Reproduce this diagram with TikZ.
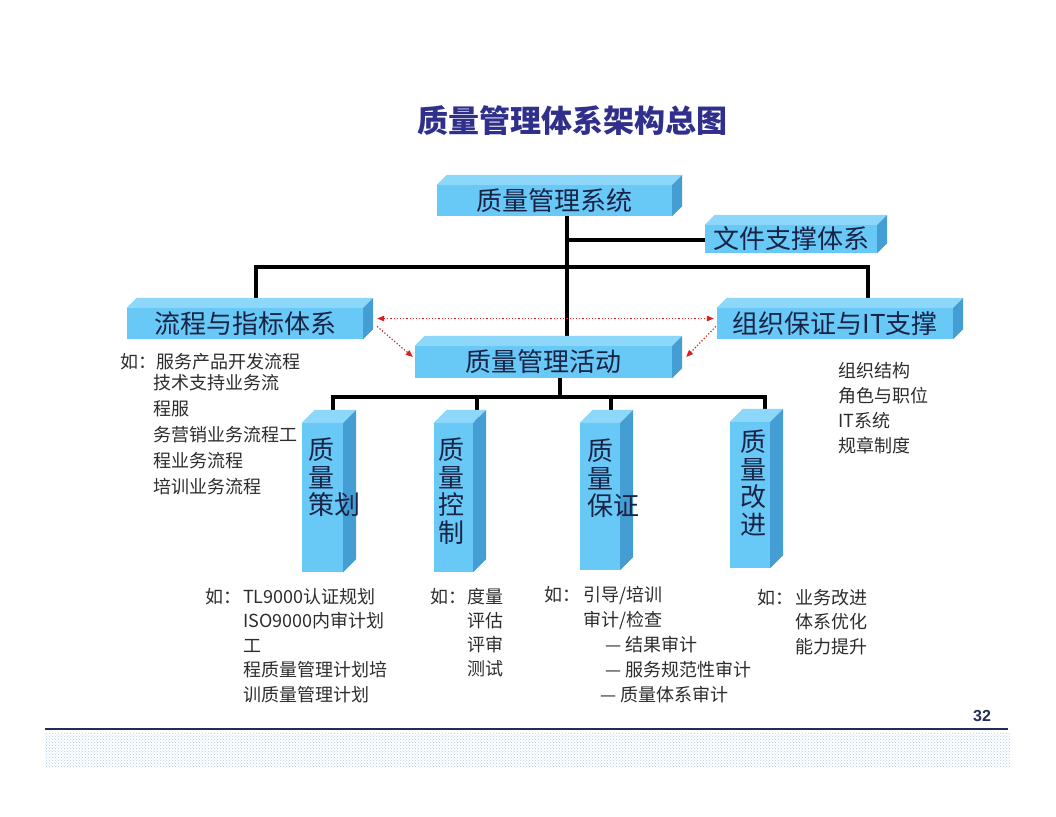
\documentclass[tikz,border=0pt]{standalone}
\usepackage{fontspec}
\setmainfont{Noto Sans CJK SC}
\newfontfamily\arialfont{Liberation Sans}
\usetikzlibrary{calc,backgrounds,patterns,arrows.meta}
\definecolor{frontc}{RGB}{104,200,246}
\definecolor{topc}{RGB}{140,215,250}
\definecolor{sidec}{RGB}{68,158,212}
\definecolor{boxtext}{RGB}{25,35,70}
\definecolor{bodytext}{RGB}{45,45,45}
\definecolor{titlec}{RGB}{48,48,140}
\definecolor{navy}{RGB}{35,45,90}
\definecolor{arrowred}{RGB}{220,30,30}
\definecolor{patc}{RGB}{170,205,238}
\tikzset{
 front/.style={fill=frontc, inner sep=0pt, text=boxtext, font=\fontsize{26}{28}\selectfont},
 pillartext/.style={text=boxtext, font=\fontsize{26}{27.5}\selectfont, align=left, inner sep=0pt, anchor=north west},
 conn/.style={line width=3.2pt, black},
 body/.style={text=bodytext, font=\fontsize{18}{25}\selectfont, align=left, inner sep=0pt, anchor=north west},
 redarrow/.style={arrowred, dotted, line width=1.2pt, -{Triangle[length=7pt,width=5.5pt]}},
}
\newcommand\cubefaces[2]{%
 \fill[topc] (#1.north west) -- ++(#2,-#2) -- ($(#1.north east)+(#2,-#2)$) -- (#1.north east) -- cycle;
 \fill[sidec] (#1.north east) -- ++(#2,-#2) -- ($(#1.south east)+(#2,-#2)$) -- (#1.south east) -- cycle;
}
\begin{document}
\begin{tikzpicture}[x=1pt,y=-1pt]
\useasboundingbox (0,0) rectangle (1056,816);

% title
\node[font=\fontsize{31}{31}\selectfont\bfseries, text=titlec] (title) at (572,121) {质量管理体系架构总图};

% boxes (front faces)
\node[front, minimum width=235, minimum height=31] (b1) at (554.5,200.5) {质量管理系统};
\node[front, minimum width=172, minimum height=28] (b2) at (791,239) {文件支撑体系};
\node[front, minimum width=236, minimum height=31] (b3) at (245,323.5) {流程与指标体系};
\node[front, minimum width=236, minimum height=31] (b4) at (835,323.5) {组织保证与IT支撑};
\node[front, minimum width=257, minimum height=32] (b5) at (543.5,362) {质量管理活动};

\node[front, minimum width=41, minimum height=149] (p1) at (322.5,497.5) {};
\node[front, minimum width=39, minimum height=149] (p2) at (453.5,497.5) {};
\node[front, minimum width=40, minimum height=147] (p3) at (600,496.5) {};
\node[front, minimum width=40, minimum height=146] (p4) at (750,495) {};

\cubefaces{b1}{10}
\cubefaces{b2}{10}
\cubefaces{b3}{10}
\cubefaces{b4}{10}
\cubefaces{b5}{10}
\cubefaces{p1}{13}
\cubefaces{p2}{13}
\cubefaces{p3}{13}
\cubefaces{p4}{13}

% pillar labels
\node[pillartext] (t1) at (308,438) {质\\量\\策划};
\node[pillartext] (t2) at (438,438) {质\\量\\控\\制};
\node[pillartext] (t3) at (587,439) {质\\量\\保证};
\node[pillartext] (t4) at (740,430) {质\\量\\改\\进};

% connectors
\coordinate (tr) at (567,240);
\coordinate (h1) at (256,267);
\coordinate (h2) at (868,267);
\coordinate (h3) at (560,397);
\coordinate (l1) at (333,397);
\coordinate (l2) at (477,397);
\coordinate (l3) at (611,397);
\coordinate (l4) at (765,397);
\begin{scope}[on background layer]
 \fill[white] (0,0) rectangle (1056,816);
 \draw[conn] (b1.south -| tr) -- (b5.north -| tr);
 \draw[conn] (tr) -- (b2.west |- tr);
 \draw[conn] (b3.north -| h1) -- (h1) -- (h2) -- (b4.north -| h2);
 \draw[conn] (b5.south -| h3) -- (h3);
 \draw[conn] (p1.north -| l1) -- (l1) -- (l4) -- (p4.north -| l4);
 \draw[conn] (l2) -- (p2.north -| l2);
 \draw[conn] (l3) -- (p3.north -| l3);
\end{scope}

% red dotted arrows
\draw[redarrow, {Triangle[length=7pt,width=5.5pt]}-{Triangle[length=7pt,width=5.5pt]}] ($(b3.east)+(14,-5)$) -- ($(b4.west)+(-3,-5)$);
\draw[redarrow] ($(b3.east)+(14,3)$) -- ($(b5.west)+(-2,-5)$);
\draw[redarrow] ($(b4.west)+(-1,3)$) -- ($(b5.east)+(14,-5)$);

% descriptive texts
\node[body] (d1a) at (120,353) {如：服务产品开发流程};
\node[body, font=\fontsize{18}{26}\selectfont] (d1) at (153,374) {技术支持业务流\\程服\\务营销业务流程工\\程业务流程\\培训业务流程};
\node[body] (d2) at (838,362) {组织结构\\角色与职位\\IT系统\\规章制度};

\node[body] (e1a) at (205,588) {如：};
\node[body, font=\fontsize{18}{24.5}\selectfont] (e1) at (243,588) {TL9000认证规划\\ISO9000内审计划\\工\\程质量管理计划培\\训质量管理计划};
\node[body] (e2a) at (430,588) {如：};
\node[body, font=\fontsize{18}{24}\selectfont] (e2) at (467,588) {度量\\评估\\评审\\测试};
\node[body] (e3a) at (544,586) {如：};
\node[body, font=\fontsize{18}{25}\selectfont] (e3) at (583,586) {引导/培训\\审计/检查\\\hspace*{22pt}— 结果审计\\\hspace*{22pt}— 服务规范性审计\\\hspace*{17pt}— 质量体系审计};
\node[body] (e4a) at (757,589) {如：};
\node[body, font=\fontsize{18}{24.5}\selectfont] (e4) at (795,589) {业务改进\\体系优化\\能力提升};

% footer
\node[font=\arialfont\bfseries\fontsize{16}{16}\selectfont, text=navy] (pg) at (982,716) {32};
\coordinate (f1) at (45,729);
\coordinate (f2) at (1008,729);
\draw[navy, line width=1.2pt] (f1) -- (f2);
\fill[pattern=crosshatch dots, pattern color=patc] (45,733) rectangle (1010,767);
\end{tikzpicture}
\end{document}
